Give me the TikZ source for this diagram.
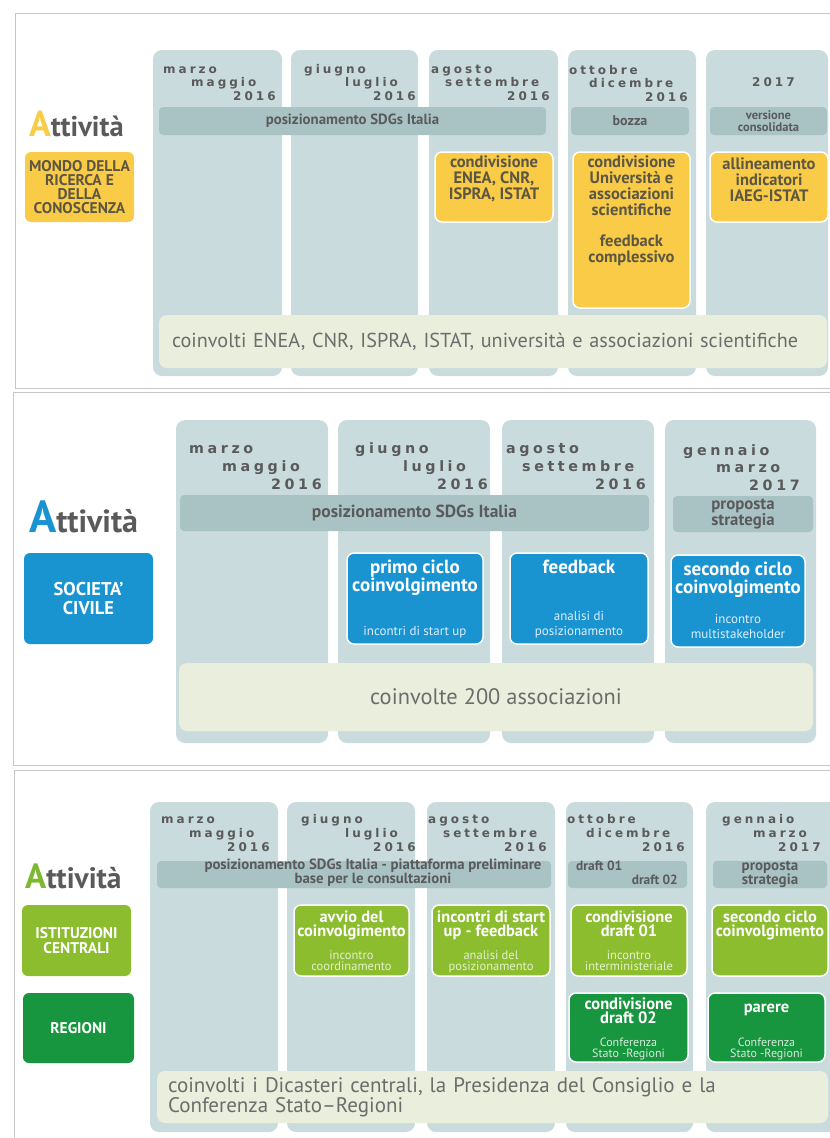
\documentclass[tikz,border=0pt]{standalone}
\usepackage{fontspec}
\setmainfont{PT Sans}
\newfontfamily\mesefont[LetterSpace=25]{DejaVu Sans}
\usetikzlibrary{positioning}

\definecolor{colonna}{HTML}{C9DBDC}
\definecolor{fondobarra}{HTML}{A9C3C5}
\definecolor{fondofascia}{HTML}{E9EFDC}
\definecolor{giallo}{HTML}{F9CB47}
\definecolor{blu}{HTML}{1A93D1}
\definecolor{verdechiaro}{HTML}{8CBD2F}
\definecolor{verdescuro}{HTML}{17963F}
\definecolor{verdeA}{HTML}{7CB832}
\definecolor{grigio}{HTML}{5A5A5A}
\definecolor{grigiotesto}{HTML}{6C6C6C}
\definecolor{testogiallo}{HTML}{5C5744}
\definecolor{subblu}{HTML}{DDEFFA}
\definecolor{subverde}{HTML}{E4F0D0}
\definecolor{subscuro}{HTML}{D5EBDB}
\definecolor{cornice}{HTML}{C6C6C6}

\newcommand\fsz[2]{\fontsize{#1}{#2}\selectfont}

\tikzset{
  col/.style={fill=colonna, rounded corners=9pt},
  mese/.style={anchor=base west, inner sep=0, text=grigio, font=\mesefont\bfseries\fsz{12}{12}},
  barra/.style={fill=fondobarra, rounded corners=4pt, inner sep=0, align=center, text=grigio, font=\bfseries\fsz{14.8}{14}},
  fascia/.style={fill=fondofascia, rounded corners=8pt, inner ysep=0, text=grigiotesto},
  att/.style={anchor=base west, inner sep=0, text=grigio, font=\bfseries\fsz{28.5}{28}},
  cat/.style={rounded corners=6pt, inner sep=0, align=center},
  tappa/.style={draw=white, line width=1.5pt, rounded corners=7pt, inner sep=0},
  ttl/.style={anchor=north, inner sep=0, align=center, font=\bfseries, execute at begin node=\strut},
  sub/.style={anchor=south, inner sep=0, align=center, execute at end node=\strut},
  ttlA/.style={ttl, text=testogiallo, yshift=-4pt, font=\bfseries\fsz{16.5}{16}},
  ttlB/.style={ttl, text=white, yshift=-8pt, font=\bfseries\fsz{19}{17.5}},
  subB/.style={sub, text=subblu, yshift=4.2pt, font=\fsz{13}{15}},
  ttlC/.style={ttl, text=white, yshift=-6pt, font=\bfseries\fsz{16.4}{14.5}},
  subC/.style={sub, text=subverde, yshift=2.2pt, font=\fsz{12.5}{11.5}},
  ttlD/.style={ttl, text=white, yshift=-5pt, font=\bfseries\fsz{16.5}{14.5}},
  subD/.style={sub, text=subscuro, yshift=1.5pt, font=\fsz{12}{11.5}},
}

\begin{document}
\begin{tikzpicture}[x=1pt,y=-1pt]
\useasboundingbox (0,0) rectangle (830,1138);

% Cornici
\draw[cornice] (840,13) -- (15,13) -- (15,388) -- (840,388);
\draw[cornice] (840,392) -- (13,392) -- (13,765) -- (840,765);
\draw[cornice] (840,770) -- (14,770) -- (14,1145);

%%% Mondo della ricerca
% Colonne
\foreach \a/\b in {153/282, 291/418, 429/558, 568/696, 706/828}
  \fill[col] (\a,50) rectangle (\b,376);
\foreach \x/\y/\txt [count=\i] in {163/73/marzo, 191/86/maggio, 233/100/2016,
    304/73/giugno, 345/86/luglio, 373/100/2016, 431/73/agosto, 445/86/settembre,
    507/100/2016, 569/74/ottobre, 589/87/dicembre, 645/101/2016, 752/86/2017}
  \node[mese] (ma\i) at (\x,\y) {\txt};
% Barre
\node[barra, minimum width=387, minimum height=28] (posA) at (352.5,121) {posizionamento SDGs Italia};
\node[barra, minimum width=118, minimum height=28, font=\bfseries\fsz{14}{14}] (bozza) at (630,121) {bozza};
\node[barra, minimum width=117, minimum height=28, font=\bfseries\fsz{12.5}{12}] (versione) at (768.5,121) {versione\\consolidata};
% Attivita
\node[att] (attA) at (29,136) {\textcolor{giallo}{\fsz{36}{36}A}ttività};
\node[cat, fill=giallo, text=testogiallo, minimum width=109, minimum height=70, font=\bfseries\fsz{15.5}{14}] (ricerca) at (79.5,187) {MONDO DELLA\\RICERCA E\\DELLA\\CONOSCENZA};
% Tappe
\node[tappa, fill=giallo, minimum width=118, minimum height=70,
  label={[ttlA]north:{condivisione\\ENEA, CNR,\\ISPRA, ISTAT}}] (condA) at (494,187) {};
\node[tappa, fill=giallo, minimum width=117, minimum height=156,
  label={[ttlA]north:{condivisione\\Università e\\associazioni\\scientifiche\\[15pt]feedback\\complessivo}}] (condB) at (631.5,230) {};
\node[tappa, fill=giallo, minimum width=118, minimum height=70,
  label={[ttlA, yshift=-2pt]north:{allineamento\\indicatori\\IAEG-ISTAT}}] (allin) at (769,187) {};
\node[fascia, minimum width=668, minimum height=53, text width=642, inner xsep=13pt, align=left, font=\fsz{20.2}{22}] (coinvA) at (493,341.5) {coinvolti ENEA, CNR, ISPRA, ISTAT, università e associazioni scientifiche};

%%% Societa civile
% Colonne
\foreach \a/\b in {176/328, 338/490, 502/654, 665/816}
  \fill[col] (\a,420) rectangle (\b,743);
\foreach \x/\y/\txt [count=\i] in {189/453/marzo, 222/471/maggio, 271/489/2016,
    355/453/giugno, 403/471/luglio, 437/489/2016, 506/453/agosto, 522/471/settembre,
    595/489/2016, 683/455/gennaio, 716/472/marzo, 749/490/2017}
  \node[mese, font=\mesefont\bfseries\fsz{14.3}{14}] (mb\i) at (\x,\y) {\txt};
% Barre
\node[barra, minimum width=469, minimum height=36, font=\bfseries\fsz{17.5}{17}] (posB) at (414.5,513) {posizionamento SDGs Italia};
\node[barra, minimum width=140, minimum height=36, font=\bfseries\fsz{16.8}{14}] (propB) at (743,514) {proposta\\strategia};
% Attivita
\node[att, font=\bfseries\fsz{32}{32}] (attB) at (29,532) {\textcolor{blu}{\fsz{45}{45}A}ttività};
\node[cat, fill=blu, text=white, minimum width=129, minimum height=91, font=\bfseries\fsz{18.5}{19}] (civile) at (88.5,598.5) {SOCIETA’\\CIVILE};
% Tappe
\node[tappa, fill=blu, minimum width=136, minimum height=91,
  label={[ttlB]north:{primo ciclo\\coinvolgimento}},
  label={[subB]south:{incontri di start up}}] (primo) at (415,598.5) {};
\node[tappa, fill=blu, minimum width=138, minimum height=91,
  label={[ttlB]north:{feedback}},
  label={[subB]south:{analisi di\\posizionamento}}] (feedB) at (579,598.5) {};
\node[tappa, fill=blu, minimum width=134, minimum height=92,
  label={[ttlB]north:{secondo ciclo\\coinvolgimento}},
  label={[subB]south:{incontro\\multistakeholder}}] (secondoB) at (738,601) {};
\node[fascia, minimum width=634, minimum height=68, font=\fsz{22.4}{24}] (coinvB) at (496,697) {coinvolte 200 associazioni};

%%% Istituzioni e regioni
% Colonne
\foreach \a/\b in {150/278, 287/415, 427/555, 566/693, 706/840}
  \fill[col] (\a,802) rectangle (\b,1132);
\foreach \x/\y/\txt [count=\i] in {161/823/marzo, 189/837/maggio, 227/851/2016,
    301/823/giugno, 345/837/luglio, 373/851/2016, 428/823/agosto, 443/837/settembre,
    504/851/2016, 567/823/ottobre, 586/837/dicembre, 642/851/2016,
    722/823/gennaio, 753/837/marzo, 778/851/2017}
  \node[mese] (mc\i) at (\x,\y) {\txt};
% Barre
\node[barra, minimum width=394, minimum height=27] (posC) at (354,874.5) {};
\node[inner sep=0, align=center, text=grigio, font=\bfseries\fsz{14.8}{11.5}] (posCt) at (373,872.5) {posizionamento SDGs Italia - piattaforma preliminare\\base per le consultazioni};
\node[barra, minimum width=119, minimum height=27] (draft) at (627.5,874.5) {};
\node[anchor=west, inner sep=0, text=grigio, font=\bfseries\fsz{13.4}{12}] (d01) at (576,866) {draft 01};
\node[anchor=east, inner sep=0, text=grigio, font=\bfseries\fsz{13.4}{12}] (d02) at (678,880) {draft 02};
\node[barra, minimum width=114, minimum height=27, font=\bfseries\fsz{15}{12}] (propC) at (770,874.5) {proposta\\strategia};
% Attivita
\node[att, font=\bfseries\fsz{29.5}{29}] (attC) at (25,888) {\textcolor{verdeA}{\fsz{35}{35}A}ttività};
\node[cat, fill=verdechiaro, text=white, minimum width=109, minimum height=71, font=\bfseries\fsz{15.5}{15}] (istit) at (76.5,940.5) {ISTITUZIONI\\CENTRALI};
\node[cat, fill=verdescuro, text=white, minimum width=111, minimum height=70, font=\bfseries\fsz{15.5}{15}] (regioni) at (78.5,1028) {REGIONI};
% Tappe
\node[tappa, fill=verdechiaro, minimum width=115, minimum height=71,
  label={[ttlC]north:{avvio del\\coinvolgimento}},
  label={[subC]south:{incontro\\coordinamento}}] (avvio) at (351.5,940.5) {};
\node[tappa, fill=verdechiaro, minimum width=118, minimum height=71,
  label={[ttlC]north:{incontri di start\\up - feedback}},
  label={[subC]south:{analisi del\\posizionamento}}] (incontri) at (491,940.5) {};
\node[tappa, fill=verdechiaro, minimum width=116, minimum height=71,
  label={[ttlC]north:{condivisione\\draft 01}},
  label={[subC]south:{incontro\\interministeriale}}] (draftA) at (629,940.5) {};
\node[tappa, fill=verdechiaro, minimum width=116, minimum height=71,
  label={[ttlC]north:{secondo ciclo\\coinvolgimento}}] (secondoC) at (770,940.5) {};
\node[tappa, fill=verdescuro, minimum width=119, minimum height=69,
  label={[ttlD]north:{condivisione\\draft 02}},
  label={[subD]south:{Conferenza\\Stato -Regioni}}] (draftB) at (628.5,1027.5) {};
\node[tappa, fill=verdescuro, minimum width=117, minimum height=69,
  label={[ttlD, yshift=-5pt]north:{parere}},
  label={[subD]south:{Conferenza\\Stato -Regioni}}] (parere) at (766.5,1027.5) {};
\node[fascia, minimum width=671, minimum height=52, text width=649, inner xsep=11pt, align=left, font=\fsz{21}{19}] (coinvC) at (492.5,1097) {coinvolti i Dicasteri centrali, la Presidenza del Consiglio e la\\Conferenza Stato–Regioni};
\end{tikzpicture}
\end{document}
